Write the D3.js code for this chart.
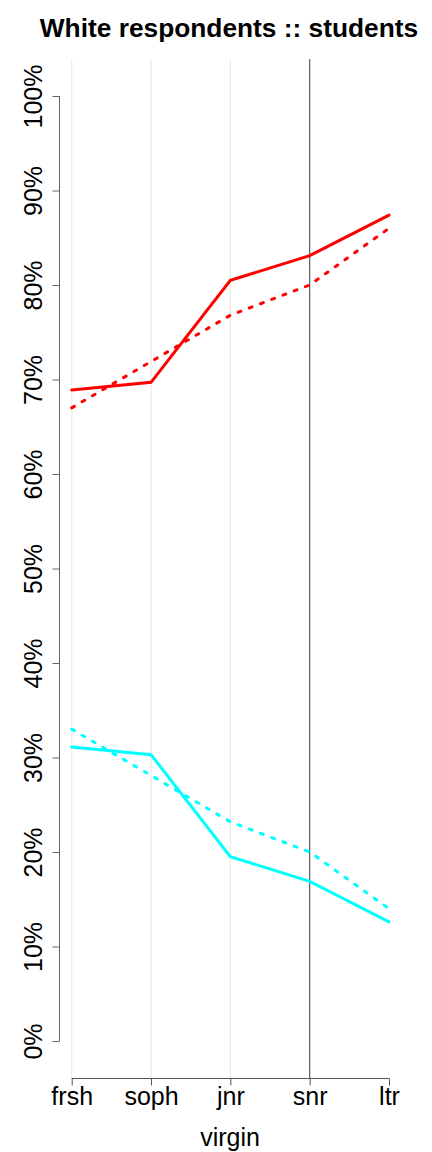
<!DOCTYPE html>
<html>
<head>
<meta charset="utf-8">
<script src="https://d3js.org/d3.v7.min.js"></script>
<style>
  body { margin: 0; background: #fff; }
  text { font-family: "Liberation Sans", Arial, sans-serif; fill: #000; }
</style>
</head>
<body>
<svg width="432" height="1152"></svg>
<script>
// categories (school year) and shares for each group
var years = ["frsh", "soph", "jnr", "snr", "ltr"];
var redSolid = [0.689, 0.697, 0.805, 0.831, 0.874];
var redDotted = [0.670, 0.719, 0.768, 0.800, 0.860];
var cyanSolid = [0.311, 0.303, 0.195, 0.169, 0.126];
var cyanDotted = [0.330, 0.281, 0.232, 0.200, 0.140];
var yTicks = [0, 0.1, 0.2, 0.3, 0.4, 0.5, 0.6, 0.7, 0.8, 0.9, 1];
var guideColors = ["#f1f0e2", "#ebebe3", "#efeedc", "#5a5a5a"];

var svg = d3.select("svg");

var x = d3.scalePoint()
    .domain(years)
    .range([71.7, 389]);

var y = d3.scaleLinear()
    .domain([0, 1])
    .range([1041, 96]);

// vertical guide lines
svg.append("g")
    .selectAll("line")
    .data(years.slice(0, 4))
    .enter().append("line")
    .attr("x1", function(d) { return x(d); })
    .attr("x2", function(d) { return x(d); })
    .attr("y1", 59)
    .attr("y2", 1078)
    .attr("stroke", function(d, i) { return guideColors[i]; })
    .attr("stroke-width", 1.2);

// y axis
var yAxis = svg.append("g")
    .attr("transform", "translate(59.5,0)")
    .call(d3.axisLeft(y)
        .tickValues(yTicks)
        .tickSize(7)
        .tickFormat(d3.format(".0%")));
yAxis.select(".domain")
    .attr("d", "M0," + y(0) + "V" + y(1))
    .attr("stroke", "#666");
yAxis.selectAll(".tick line").attr("stroke", "#666");
yAxis.selectAll(".tick text")
    .attr("x", null).attr("dy", null)
    .attr("transform", "translate(-17.5,0) rotate(-90)")
    .attr("text-anchor", "middle")
    .style("font-size", "25px")
    .style("font-family", "'Liberation Sans', Arial, sans-serif")
    .attr("fill", "#000");

// x axis
var xAxis = svg.append("g")
    .attr("transform", "translate(0,1078.5)")
    .call(d3.axisBottom(x).tickSize(7).tickPadding(4));
xAxis.select(".domain")
    .attr("d", "M" + x("frsh") + ",0H" + x("ltr"))
    .attr("stroke", "#555");
xAxis.selectAll(".tick line").attr("stroke", "#555");
xAxis.selectAll(".tick text")
    .attr("y", 26).attr("dy", null)
    .style("font-size", "25px")
    .style("font-family", "'Liberation Sans', Arial, sans-serif")
    .attr("fill", "#000");

// lines
var line = d3.line()
    .x(function(d, i) { return x(years[i]); })
    .y(function(d) { return y(d); });

var series = [
    { values: redDotted, color: "#ff0000", dash: "3,9" },
    { values: redSolid, color: "#ff0000", dash: null },
    { values: cyanDotted, color: "#00ffff", dash: "3,9" },
    { values: cyanSolid, color: "#00ffff", dash: null }
];

svg.append("g")
    .selectAll("path")
    .data(series)
    .enter().append("path")
    .attr("d", function(d) { return line(d.values); })
    .attr("fill", "none")
    .attr("stroke", function(d) { return d.color; })
    .attr("stroke-width", 3)
    .attr("stroke-linecap", "round")
    .attr("stroke-dasharray", function(d) { return d.dash; });

// title and x label
svg.append("text")
    .attr("x", 229)
    .attr("y", 37)
    .attr("text-anchor", "middle")
    .style("font-size", "26.3px")
    .style("font-weight", "bold")
    .text("White respondents :: students");

svg.append("text")
    .attr("x", 230)
    .attr("y", 1146)
    .attr("text-anchor", "middle")
    .style("font-size", "25px")
    .text("virgin");
</script>
</body>
</html>
